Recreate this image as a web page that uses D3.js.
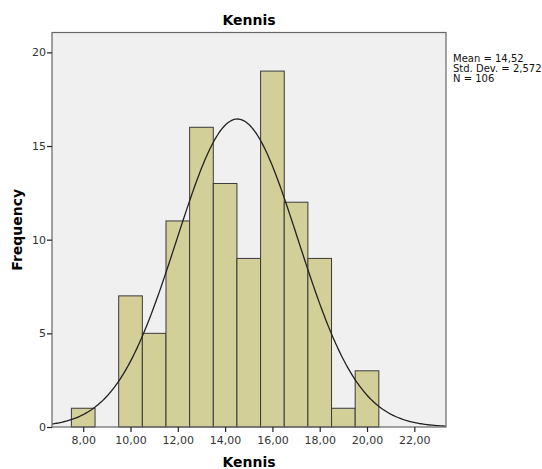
<!DOCTYPE html>
<html>
<head>
<meta charset="utf-8">
<script src="https://cdn.jsdelivr.net/npm/d3@7"></script>
<style>
  body { margin: 0; background: #fff; }
  text { font-family: "DejaVu Sans", sans-serif; }
</style>
</head>
<body>
<svg id="chart" width="542" height="469"></svg>
<script>
// bins of width 1, labelled by centre
const binCenters = [8, 9, 10, 11, 12, 13, 14, 15, 16, 17, 18, 19, 20];
const counts = [1, 0, 7, 5, 11, 16, 13, 9, 19, 12, 9, 1, 3];
const xTicks = [8, 10, 12, 14, 16, 18, 20, 22];
const yTicks = [0, 5, 10, 15, 20];
const stats = ["Mean = 14,52", "Std. Dev. = 2,572", "N = 106"];
const mean = 14.52, sd = 2.572, n = 106, binWidth = 1;

const svg = d3.select("#chart");
const margin = { top: 32.5, right: 96, bottom: 42, left: 52 };
const width = 542 - margin.left - margin.right;
const height = 469 - margin.top - margin.bottom;

const x = d3.scaleLinear().domain([6.68, 23.34]).range([0, width]);
const y = d3.scaleLinear().domain([0, 21.06]).range([height, 0]);

const g = svg.append("g").attr("transform", `translate(${margin.left},${margin.top})`);

g.append("rect")
    .attr("width", width)
    .attr("height", height)
    .attr("fill", "#f0f0f0");

g.append("g")
  .selectAll("rect")
  .data(binCenters.map((c, i) => ({ c, v: counts[i] })).filter(d => d.v > 0))
  .join("rect")
    .attr("x", d => x(d.c - binWidth / 2))
    .attr("y", d => y(d.v))
    .attr("width", d => x(d.c + binWidth / 2) - x(d.c - binWidth / 2))
    .attr("height", d => y(0) - y(d.v))
    .attr("fill", "#d3cf98")
    .attr("stroke", "#3a3a3a")
    .attr("stroke-width", 1);

// normal curve scaled to counts
const curvePts = d3.range(x.domain()[0], x.domain()[1] + 0.01, 0.05).map(v => [
  v,
  n * binWidth / (sd * Math.sqrt(2 * Math.PI)) * Math.exp(-0.5 * ((v - mean) / sd) ** 2)
]);
g.append("path")
    .datum(curvePts)
    .attr("fill", "none")
    .attr("stroke", "#222")
    .attr("stroke-width", 1.3)
    .attr("d", d3.line().x(d => x(d[0])).y(d => y(d[1])));

g.append("rect")
    .attr("width", width)
    .attr("height", height)
    .attr("fill", "none")
    .attr("stroke", "#666")
    .attr("stroke-width", 1.2);

const xAxis = g.append("g")
    .attr("transform", `translate(0,${height})`)
    .call(d3.axisBottom(x).tickValues(xTicks).tickSize(5).tickFormat(d => d3.format(".2f")(d).replace(".", ",")));
const yAxis = g.append("g")
    .call(d3.axisLeft(y).tickValues(yTicks).tickSize(5));

[xAxis, yAxis].forEach(a => {
  a.select(".domain").remove();
  a.selectAll(".tick line").attr("stroke", "#222").attr("stroke-width", 1.2);
  a.selectAll(".tick text").attr("fill", "#333").style("font-size", "11px");
});
yAxis.selectAll(".tick text").attr("x", -6);
xAxis.selectAll(".tick text").attr("y", 9);

svg.append("text")
    .attr("x", margin.left + width / 2)
    .attr("y", 25)
    .attr("text-anchor", "middle")
    .style("font-size", "14px")
    .style("font-weight", "bold")
    .text("Kennis");

svg.append("text")
    .attr("x", margin.left + width / 2)
    .attr("y", 467)
    .attr("text-anchor", "middle")
    .style("font-size", "14px")
    .style("font-weight", "bold")
    .text("Kennis");

svg.append("text")
    .attr("transform", `translate(22,${margin.top + height / 2}) rotate(-90)`)
    .attr("text-anchor", "middle")
    .style("font-size", "14px")
    .style("font-weight", "bold")
    .text("Frequency");

svg.append("g")
  .selectAll("text")
  .data(stats)
  .join("text")
    .attr("x", 453)
    .attr("y", (d, i) => 62 + i * 10)
    .style("font-size", "10px")
    .attr("fill", "#111")
    .text(d => d);
</script>
</body>
</html>
